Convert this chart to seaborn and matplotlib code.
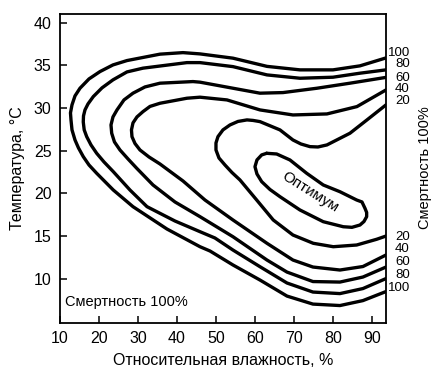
import matplotlib
matplotlib.use("Agg")
import matplotlib.pyplot as plt
import pandas as pd
import seaborn as sns

# Изолинии смертности (%), точки: влажность (%), температура (°C)
levels = [100, 80, 60, 40, 20]

hum_100 = [93.6, 86.92, 80.0, 71.54, 63.08, 54.36, 45.9, 41.54, 35.64, 27.18, 23.59,
           20.26, 17.44, 15.13, 13.85, 13.08, 12.69, 12.82, 13.08, 13.85, 14.74, 15.97,
           17.44, 19.41, 23.67, 28.72, 37.44, 45.9, 48.46, 54.36, 61.28, 68.21, 74.87,
           81.79, 87.69, 93.6]
temp_100 = [35.86, 34.93, 34.46, 34.46, 34.87, 35.83, 36.33, 36.48, 36.30, 35.55, 35.04,
            34.26, 33.40, 32.31, 31.41, 30.36, 29.42, 28.60, 27.43, 26.25, 25.32, 24.30,
            23.32, 22.35, 20.39, 18.44, 15.82, 13.75, 13.25, 11.61, 9.85, 7.97, 7.03,
            6.86, 7.44, 8.50]

hum_80 = [93.6, 86.92, 80.0, 71.54, 63.08, 54.36, 45.9, 42.56, 31.28, 27.18, 23.59,
          20.77, 18.54, 17.18, 16.41, 16.03, 15.97, 16.21, 16.85, 17.95, 19.41, 21.28,
          23.67, 27.95, 32.31, 39.49, 45.9, 49.74, 54.36, 61.28, 68.21, 74.87, 81.79,
          87.69, 93.6]
temp_80 = [34.46, 34.07, 33.60, 33.48, 33.87, 34.84, 35.31, 35.31, 34.66, 34.22, 33.29,
           32.35, 31.33, 30.47, 29.77, 29.07, 28.36, 27.43, 26.64, 25.67, 24.69, 23.68,
           22.54, 20.39, 18.44, 16.76, 15.51, 14.77, 13.36, 11.41, 9.50, 8.44, 8.26,
           8.85, 10.02]

hum_60 = [93.6, 84.36, 75.9, 67.18, 61.28, 54.36, 45.9, 44.1, 35.64, 31.79, 28.72,
          26.41, 24.62, 23.59, 23.08, 23.26, 23.97, 25.38, 27.44, 29.67, 33.85, 39.49,
          45.9, 54.36, 63.08, 68.21, 74.87, 81.79, 87.69, 93.6]
temp_60 = [33.58, 32.90, 32.31, 31.80, 31.73, 32.31, 33.02, 33.09, 32.90, 32.46, 31.73,
           30.94, 29.77, 28.95, 28.01, 27.04, 26.02, 25.08, 24.03, 22.94, 20.98, 18.99,
           17.27, 14.92, 12.19, 10.78, 9.67, 9.61, 10.20, 11.37]

hum_40 = [93.6, 86.15, 78.46, 69.74, 61.28, 52.82, 45.9, 42.56, 35.64, 33.08, 31.28,
          29.74, 28.72, 28.33, 28.46, 29.23, 30.51, 32.82, 35.64, 41.54, 47.18, 54.36,
          63.08, 69.74, 74.87, 81.79, 87.69, 93.6]
temp_40 = [32.11, 30.16, 29.30, 29.18, 29.77, 30.94, 31.26, 31.14, 30.55, 30.18, 29.57,
           28.95, 28.25, 27.43, 26.64, 25.84, 25.08, 24.26, 23.44, 21.45, 19.22, 16.88,
           14.15, 12.19, 11.37, 11.02, 11.43, 12.78]

hum_20 = [93.6, 88.72, 84.36, 78.46, 76.15, 74.1, 71.79, 69.74, 66.41, 61.28, 59.49,
          57.95, 55.64, 53.59, 51.79, 50.51, 50.0, 50.0, 50.77, 52.31, 54.10, 56.15,
          60.44, 64.69, 69.74, 74.95, 80.08, 86.08, 91.2, 93.6]
temp_20 = [30.36, 28.60, 27.04, 25.67, 25.43, 25.47, 25.78, 26.25, 27.43, 28.40, 28.54,
           28.60, 28.42, 28.01, 27.43, 26.64, 25.90, 25.08, 24.14, 23.32, 22.44, 21.57,
           19.22, 16.88, 15.12, 14.15, 13.75, 13.95, 14.62, 15.0]

hum_opt = [63.0, 65.56, 68.97, 73.26, 77.51, 81.79, 86.08, 87.44, 88.21, 88.64, 88.64,
           87.95, 86.92, 84.87, 82.64, 77.51, 71.54, 66.41, 63.85, 61.72, 60.51, 60.0,
           60.51, 61.72, 63.0]
temp_opt = [24.69, 24.61, 23.91, 22.35, 20.98, 20.19, 19.22, 18.99, 18.25, 17.76, 17.27,
            16.70, 16.29, 16.02, 16.09, 16.68, 18.05, 19.61, 20.45, 21.37, 22.27, 23.12,
            23.91, 24.50, 24.69]

# подписи уровней у правого края
label_top_y = [36.41, 35.16, 33.55, 32.23, 30.86]
label_bottom_y = [8.87, 10.43, 11.99, 13.44, 14.85]
label_bottom_levels = [100, 80, 60, 40, 20]

x_ticks = [10, 20, 30, 40, 50, 60, 70, 80, 90]
y_ticks = [10, 15, 20, 25, 30, 35, 40]

sns.set_theme(style="white")
plt.rcParams["font.family"] = ["Liberation Sans", "DejaVu Sans"]
plt.rcParams["text.color"] = "black"
plt.rcParams["axes.labelcolor"] = "black"

fig = plt.figure(figsize=(4.45, 3.72), dpi=100)
ax = fig.add_axes([0.1348, 0.1325, 0.7326, 0.8298])

curves = [(hum_100, temp_100), (hum_80, temp_80), (hum_60, temp_60),
          (hum_40, temp_40), (hum_20, temp_20), (hum_opt, temp_opt)]
for hx, ty in curves:
    df = pd.DataFrame({"hum": hx, "temp": ty})
    sns.lineplot(data=df, x="hum", y="temp", sort=False, estimator=None,
                 color="black", linewidth=2.4, ax=ax,
                 solid_joinstyle="round", solid_capstyle="round")

ax.set_xlim(10, 93.6)
ax.set_ylim(4.85, 41.0)
ax.set_xticks(x_ticks)
ax.set_yticks(y_ticks)
ax.tick_params(direction="in", length=5, width=1.1, colors="black",
               labelsize=11.5, pad=6, bottom=True, left=True)
for side in ax.spines.values():
    side.set_color("black")
    side.set_linewidth(1.3)

ax.set_xlabel("Относительная влажность, %", fontsize=11.5, labelpad=5)
ax.set_ylabel("Температура, °C", fontsize=11.5, labelpad=6)

for lev, yy in zip(levels, label_top_y):
    ax.text(99.7, yy, str(lev), ha="right", va="center", fontsize=9.5)
for lev, yy in zip(label_bottom_levels, label_bottom_y):
    ax.text(99.7, yy, str(lev), ha="right", va="center", fontsize=9.5)

ax.text(103.6, 22.97, "Смертность 100%", rotation=90, ha="center", va="center",
        fontsize=10.5)
ax.text(11.3, 7.3, "Смертность 100%", ha="left", va="center", fontsize=10.5)
ax.text(74.1, 20.2, "Оптимум", rotation=-32, ha="center", va="center",
        fontsize=11)

fig.savefig("out.png", dpi=100)
